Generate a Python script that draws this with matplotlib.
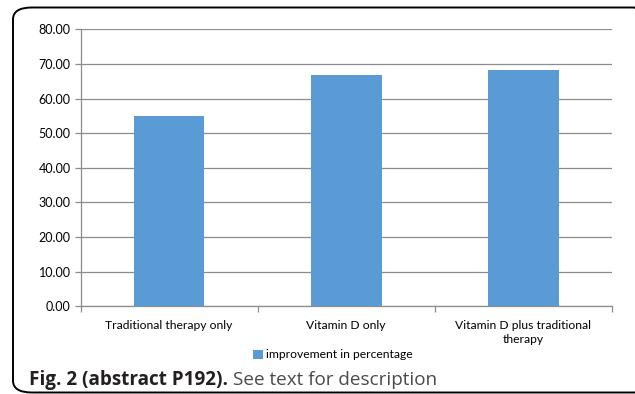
import matplotlib
matplotlib.use('Agg')
import matplotlib.pyplot as plt
from matplotlib.patches import FancyBboxPatch
import numpy as np

categories = ['Traditional therapy only', 'Vitamin D only', 'Vitamin D plus traditional\ntherapy']
improvement = [54.9, 66.7, 68.2]
series_name = 'improvement in percentage'
y_ticks = [0, 10, 20, 30, 40, 50, 60, 70, 80]

BAR_COLOR = '#5B9BD5'
GRID_COLOR = '#8c8c8c'
CHART_FONT = 'Lato'
FS = 8.7

fig = plt.figure(figsize=(6.35, 3.94), dpi=100)

# rounded frame around the whole figure panel
frame = FancyBboxPatch((13 / 635, 1.5 / 394), 640 / 635, 385 / 394,
                       boxstyle='round,pad=0,rounding_size=0.03',
                       transform=fig.transFigure, facecolor='none',
                       edgecolor='black', lw=1.4, clip_on=False)
fig.patches.append(frame)

ax = fig.add_axes([80.5 / 635, 1 - 306.3 / 394, 531.2 / 635, 277 / 394])
x = np.arange(len(categories))
bars = ax.bar(x, improvement, width=0.4, color=BAR_COLOR, label=series_name, zorder=3)

ax.set_xlim(-0.5, len(categories) - 0.5)
ax.set_ylim(0, 80)
ax.set_yticks(y_ticks)
ax.set_yticklabels(['%.2f' % v for v in y_ticks], fontsize=9, family=CHART_FONT)
ax.yaxis.grid(True, color=GRID_COLOR, lw=0.9, zorder=0)
ax.set_axisbelow(True)

# category boundary ticks on x axis, labels centred under bars
ax.set_xticks(np.arange(len(categories) + 1) - 0.5)
ax.set_xticklabels([])
ax.set_xticks(x, minor=True)
ax.set_xticklabels(categories, minor=True, fontsize=FS, family=CHART_FONT,
                   linespacing=1.3, va='top')
ax.tick_params(axis='x', which='minor', length=0, pad=10)
ax.tick_params(axis='x', which='major', length=4, color=GRID_COLOR, width=0.9)
ax.tick_params(axis='y', length=4, color=GRID_COLOR, width=0.9, pad=3)

for side in ['top', 'right']:
    ax.spines[side].set_visible(False)
ax.spines['left'].set_color(GRID_COLOR)
ax.spines['bottom'].set_color(GRID_COLOR)
ax.spines['left'].set_linewidth(0.9)
ax.spines['bottom'].set_linewidth(0.9)

fig.legend(handles=[bars], labels=[series_name], loc='center',
           bbox_to_anchor=(333 / 635, 1 - 355 / 394), frameon=False,
           prop={'family': CHART_FONT, 'size': FS}, handlelength=0.8,
           handleheight=0.8, handletextpad=0.3)

# caption: bold prefix followed by regular text
t1 = fig.text(29 / 635, 1 - 385 / 394, 'Fig. 2 (abstract P192).', fontsize=13.6,
              fontweight='bold', family='Open Sans', color='#231f20', va='baseline')
fig.canvas.draw()
bb = t1.get_window_extent()
fig.text((bb.x1 + 5) / 635, 1 - 385 / 394, 'See text for description', fontsize=13.6,
         family='Open Sans', color='#4a4a4a', va='baseline')

fig.savefig('out.png', dpi=100)
